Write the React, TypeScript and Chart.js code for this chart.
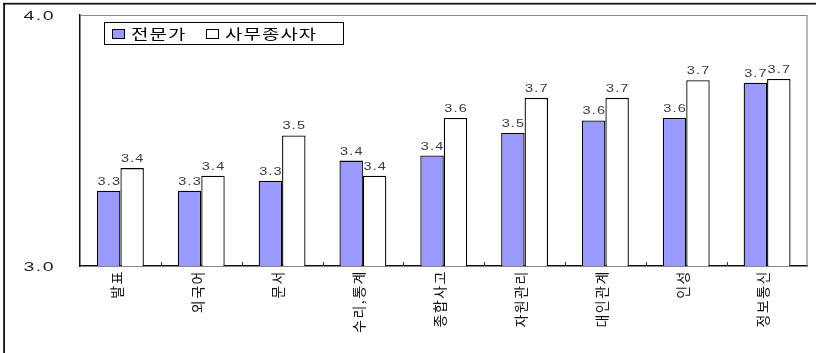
import React, { useEffect, useRef } from "react";
import { Chart, registerables } from "chart.js";

Chart.register(...registerables);

// Categories (skill areas) and mean scores per respondent group
const categories = ["발표", "외국어", "문서", "수리,통계", "종합사고", "자원관리", "대인관계", "인성", "정보통신"];
const expertScores = [3.3, 3.3, 3.34, 3.42, 3.44, 3.53, 3.58, 3.59, 3.73];
const clericalScores = [3.39, 3.36, 3.52, 3.36, 3.59, 3.67, 3.67, 3.74, 3.745];
const seriesNames = ["전문가", "사무종사자"];
const yTickValues = [3.0, 4.0];

const EXPERT_FILL = "#9999ff";
const CLERICAL_FILL = "#ffffff";

// Draws text with a horizontal stretch (wide glyph look)
function wideText(
  ctx: CanvasRenderingContext2D,
  text: string,
  x: number,
  y: number,
  font: string,
  sx: number,
  spacing: number,
  align: CanvasTextAlign,
  baseline: CanvasTextBaseline,
  color: string
) {
  ctx.save();
  ctx.font = font;
  (ctx as any).letterSpacing = spacing + "px";
  ctx.fillStyle = color;
  ctx.textAlign = align;
  ctx.textBaseline = baseline;
  ctx.translate(x, y);
  ctx.scale(sx, 1);
  ctx.fillText(text, 0, 0);
  ctx.restore();
}

const decorPlugin = {
  id: "decor",
  beforeDraw(chart: any) {
    const ctx: CanvasRenderingContext2D = chart.ctx;
    ctx.save();
    ctx.fillStyle = "#ffffff";
    ctx.fillRect(0, 0, chart.width, chart.height);
    // outer frame (top and left edges)
    ctx.fillStyle = "#111111";
    ctx.fillRect(3, 2.8, chart.width - 3, 1.8);
    ctx.fillRect(3.2, 3, 1.8, chart.height - 3);
    ctx.restore();
    // spacing for the rotated category labels
    (ctx as any).letterSpacing = "1.5px";
  },
  afterDatasetsDraw(chart: any) {
    const ctx: CanvasRenderingContext2D = chart.ctx;
    (ctx as any).letterSpacing = "0px";
    const area = chart.chartArea;
    const xScale = chart.scales.x;
    const yScale = chart.scales.y;

    // plot frame: top and right edges in gray
    ctx.save();
    ctx.strokeStyle = "#8a8a8a";
    ctx.lineWidth = 1.2;
    ctx.beginPath();
    ctx.moveTo(area.left, area.top + 0.5);
    ctx.lineTo(area.right - 0.5, area.top + 0.5);
    ctx.lineTo(area.right - 0.5, area.bottom);
    ctx.stroke();

    // short category separators rising from the x axis
    ctx.strokeStyle = "#333333";
    ctx.lineWidth = 1;
    ctx.beginPath();
    for (let i = 1; i < categories.length; i++) {
      const x = Math.round((xScale.getPixelForValue(i - 1) + xScale.getPixelForValue(i)) / 2) + 0.5;
      ctx.moveTo(x, area.bottom);
      ctx.lineTo(x, area.bottom - 4);
    }
    ctx.stroke();
    ctx.restore();

    // y tick labels
    yScale.ticks.forEach((t: any) => {
      const y = yScale.getPixelForValue(t.value);
      wideText(ctx, Number(t.value).toFixed(1), 55, y + 1, "13px 'Liberation Sans', Arial, sans-serif", 1.5, 1, "right", "middle", "#222222");
    });

    // value labels above each bar
    chart.data.datasets.forEach((ds: any, di: number) => {
      const meta = chart.getDatasetMeta(di);
      meta.data.forEach((el: any, i: number) => {
        const v = ds.data[i] as number;
        wideText(ctx, v.toFixed(1), el.x + 0.6, el.y - 6, "10px 'Liberation Sans', Arial, sans-serif", 1.45, 0.8, "center", "alphabetic", "#3a3a3a");
      });
    });

    // legend box
    ctx.save();
    ctx.strokeStyle = "#000000";
    ctx.lineWidth = 1;
    ctx.fillStyle = "#ffffff";
    ctx.fillRect(104, 22, 239, 22);
    ctx.strokeRect(104.5, 22.5, 239, 22);
    const swatches = [
      { x: 112, fill: EXPERT_FILL, label: seriesNames[0], tx: 131 },
      { x: 206, fill: CLERICAL_FILL, label: seriesNames[1], tx: 225 },
    ];
    swatches.forEach((s) => {
      ctx.fillStyle = s.fill;
      ctx.fillRect(s.x, 29, 13, 10);
      ctx.strokeStyle = "#000000";
      ctx.strokeRect(s.x + 0.5, 29.5, 12, 9);
      wideText(ctx, s.label, s.tx, 34, "14px 'Noto Sans CJK KR', sans-serif", 1.35, 0.8, "left", "middle", "#000000");
    });
    ctx.restore();
  },
};

export default function App() {
  const canvasRef = useRef<HTMLCanvasElement | null>(null);

  useEffect(() => {
    if (!canvasRef.current) return;
    const chart = new Chart(canvasRef.current, {
      type: "bar",
      data: {
        labels: categories,
        datasets: [
          {
            label: seriesNames[0],
            data: expertScores,
            backgroundColor: EXPERT_FILL,
            borderColor: "#000000",
            borderWidth: 1.3,
          },
          {
            label: seriesNames[1],
            data: clericalScores,
            backgroundColor: CLERICAL_FILL,
            borderColor: "#000000",
            borderWidth: 1.3,
          },
        ],
      },
      options: {
        responsive: false,
        animation: false,
        devicePixelRatio: 1,
        layout: { padding: { top: 15, right: 8.5, left: 0, bottom: 0 } },
        datasets: { bar: { categoryPercentage: 0.58, barPercentage: 1.0 } },
        plugins: {
          legend: { display: false },
          tooltip: { enabled: false },
          title: { display: false },
        },
        scales: {
          x: {
            offset: true,
            grid: { display: false, drawTicks: false },
            border: { display: true, color: "#111111", width: 1.5 },
            ticks: {
              autoSkip: false,
              minRotation: 90,
              maxRotation: 90,
              padding: 4,
              labelOffset: -4,
              color: "#111111",
              font: { family: "'Noto Sans CJK KR', sans-serif", size: 14 },
            },
            afterFit: (scale: any) => {
              scale.height = 87;
            },
          },
          y: {
            min: yTickValues[0],
            max: yTickValues[yTickValues.length - 1],
            grid: { display: false, drawTicks: false },
            border: { display: true, color: "#111111", width: 1.5 },
            ticks: { display: false, stepSize: 1 },
            afterFit: (scale: any) => {
              scale.width = 80;
            },
          },
        },
      },
      plugins: [decorPlugin],
    });
    return () => chart.destroy();
  }, []);

  return (
    <div style={{ position: "fixed", left: 0, top: 0, width: 816, height: 353, background: "#fff" }}>
      <canvas ref={canvasRef} width={816} height={353} style={{ display: "block" }} />
    </div>
  );
}
